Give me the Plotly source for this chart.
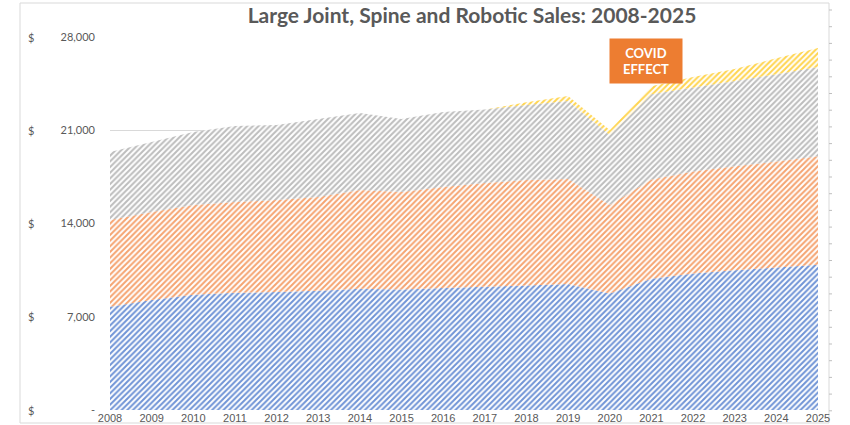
import plotly.graph_objects as go

years = list(range(2008, 2026))

# stacked series values (USD millions)
knees = [7750, 8250, 8650, 8800, 8850, 8950, 9100, 9050, 9150, 9250, 9350, 9450, 8750, 9850, 10250, 10500, 10700, 10900]
hips = [6510, 6610, 6740, 6810, 6910, 7040, 7420, 7320, 7590, 7790, 7920, 7890, 6640, 7450, 7650, 7800, 7950, 8150]
spine = [5110, 5260, 5480, 5710, 5640, 5860, 5780, 5480, 5630, 5510, 5630, 5860, 5250, 6400, 6300, 6400, 6550, 6700]
robotics = [0, 0, 0, 0, 0, 0, 0, 0, 0, 0, 200, 370, 380, 600, 800, 900, 1200, 1430]

series_names = ["Knees", "Hips", "Spine", "Robotics"]
series_colors = ["#4472C4", "#ED7D31", "#A5A5A5", "#FFC000"]
pattern_colors = ["#7094D6", "#F5A471", "#BDBDBD", "#FFD54F"]
series_values = [knees, hips, spine, robotics]

y_tickvals = [0, 7000, 14000, 21000, 28000]
y_ticktext = ["-", "7,000", "14,000", "21,000", "28,000"]

title_text = "Large Joint, Spine and Robotic Sales: 2008-2025"
covid_text = "COVID<br>EFFECT"

fig = go.Figure()
for name, color, pcolor, vals in zip(series_names, series_colors, pattern_colors, series_values):
    fig.add_trace(go.Scatter(
        x=years, y=vals, name=name, mode="none",
        stackgroup="one",
        fillcolor=color,
        fillpattern=dict(shape="/", fgcolor=pcolor, bgcolor="white",
                         size=4, solidity=0.5, fillmode="replace"),
        showlegend=False,
    ))

# plot area px: x 110..818, y 37..410
W, H = 850, 425
L, R, T, B = 110, 818, 37, 410
pw, ph = R - L, B - T

def px_x(p):
    return (p - L) / pw

def px_y(p):
    return (B - p) / ph

shapes = [dict(type="rect", xref="paper", yref="paper",
               x0=px_x(20), x1=px_x(829), y0=px_y(423), y1=px_y(3),
               line=dict(color="#D9D9D9", width=1), fillcolor="rgba(0,0,0,0)", layer="below")]
# small decorative ticks on right frame edge
k = 0
while 10 + k * 16.7 < 420:
    yy = 10 + k * 16.7
    shapes.append(dict(type="line", xref="paper", yref="paper",
                       x0=px_x(829), x1=px_x(832), y0=px_y(yy), y1=px_y(yy),
                       line=dict(color="#BFBFBF", width=1)))
    k += 1

annotations = []
for v in y_tickvals:
    annotations.append(dict(text="$", xref="paper", yref="y", x=px_x(31), y=v,
                            showarrow=False, xanchor="center", yanchor="middle",
                            font=dict(family="Lato, Liberation Sans, sans-serif", size=11, color="#595959")))
annotations.append(dict(text="<b>" + covid_text + "</b>", xref="x", yref="y",
                        x=2020.86, y=26200, showarrow=False,
                        width=72, height=44, bgcolor="#ED7D31", borderpad=0,
                        align="center", valign="middle",
                        font=dict(family="Lato, Open Sans, sans-serif", size=13, color="white")))

fig.update_layout(
    width=W, height=H,
    margin=dict(l=L, r=W - R, t=T, b=H - B, autoexpand=False),
    paper_bgcolor="white", plot_bgcolor="white",
    title=dict(text="<b>" + title_text + "</b>", x=(472) / W, xanchor="center",
               y=1 - 16 / H, yanchor="middle",
               font=dict(family="Lato, Open Sans, sans-serif", size=21, color="#595959")),
    xaxis=dict(range=[2008, 2025], tickmode="array", tickvals=years, automargin=False,
               ticktext=[str(y) for y in years], showgrid=False, zeroline=False,
               showline=False, ticks="",
               tickfont=dict(family="Liberation Sans Narrow, Arial Narrow, Liberation Sans, sans-serif",
                             size=11, color="#595959")),
    yaxis=dict(range=[0, 28000], tickmode="array", tickvals=y_tickvals, ticktext=y_ticktext,
               automargin=False,
               showgrid=True, gridcolor="#D9D9D9", gridwidth=1, zeroline=False,
               showline=False, ticks="", ticklabelstandoff=14,
               tickfont=dict(family="Lato, Liberation Sans, sans-serif", size=11, color="#595959")),
    shapes=shapes,
    annotations=annotations,
)

fig.write_html("out.html")
